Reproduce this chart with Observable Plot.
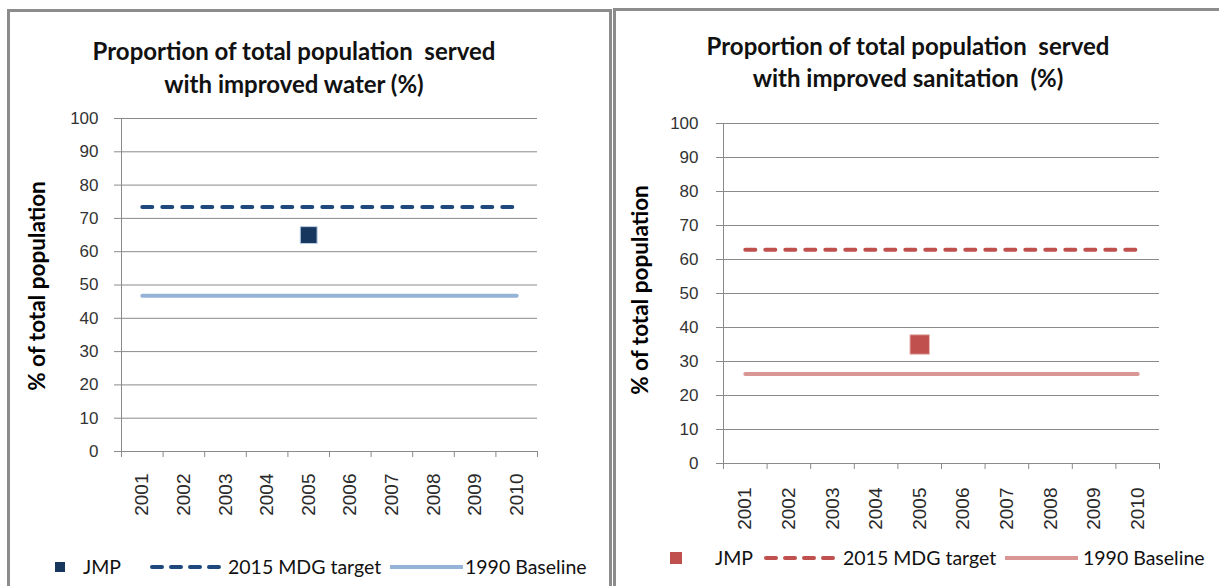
<!DOCTYPE html>
<html><head><meta charset="utf-8">
<script src="https://cdn.jsdelivr.net/npm/d3@7"></script>
<script src="https://cdn.jsdelivr.net/npm/@observablehq/plot@0.6"></script>
<style>
body{margin:0;width:1219px;height:586px;overflow:hidden;background:#fff;font-family:Lato,"Open Sans",sans-serif;position:relative;color:#000}
.panel{position:absolute;box-sizing:border-box;border:3px solid #8c8c8c;border-bottom:none}
.title{position:absolute;text-align:center;font-weight:bold;font-size:24px;line-height:33px;color:#111;white-space:nowrap}
.ylab{position:absolute;width:300px;height:28px;line-height:28px;text-align:center;transform:rotate(-90deg);font-weight:bold;font-size:22.5px;white-space:nowrap}
.chart{position:absolute}
.chart g[aria-label="y-axis tick label"] text{font-size:17px !important;font-family:'Liberation Sans',Arial,sans-serif !important;fill:#333}
.chart g[aria-label="x-axis tick label"] text{font-size:19px !important;font-family:'Liberation Sans',Arial,sans-serif !important;fill:#2a2a2a}
.lg{position:absolute;font-size:19.5px;line-height:20px;white-space:nowrap;color:#111}
.sw{position:absolute}
</style></head>
<body>
<div class="panel" style="left:7px;top:9px;width:605px;height:600px"></div>
<div class="panel" style="left:613px;top:8px;width:640px;height:600px"></div>
<div id="root"></div>
<script>
// ---- data ----
const years = [2001, 2002, 2003, 2004, 2005, 2006, 2007, 2008, 2009, 2010];
const yTicks = [0, 10, 20, 30, 40, 50, 60, 70, 80, 90, 100];
const waterJmpYears = [2005];
const waterJmp = [65];
const waterTarget = [73.4, 73.4, 73.4, 73.4, 73.4, 73.4, 73.4, 73.4, 73.4, 73.4];
const waterBaseline = [46.8, 46.8, 46.8, 46.8, 46.8, 46.8, 46.8, 46.8, 46.8, 46.8];
const sanJmpYears = [2005];
const sanJmp = [35];
const sanTarget = [62.9, 62.9, 62.9, 62.9, 62.9, 62.9, 62.9, 62.9, 62.9, 62.9];
const sanBaseline = [26.3, 26.3, 26.3, 26.3, 26.3, 26.3, 26.3, 26.3, 26.3, 26.3];
const seriesNames = ["JMP", "2015 MDG target", "1990 Baseline"];
const yLabel = "% of total population";
const titleWater = ["Proportion of total population  served", "with improved water (%)"];
const titleSan = ["Proportion of total population  served", "with improved sanitation  (%)"];

const root = document.getElementById("root");
const boundaries = [years[0] - 0.5, ...years.map(y => y + 0.5)];

function makeChart(cfg) {
  const target = years.map((y, i) => ({year: y, value: cfg.target[i]}));
  const base = years.map((y, i) => ({year: y, value: cfg.baseline[i]}));
  const jmp = cfg.jmpYears.map((y, i) => ({year: y, value: cfg.jmp[i]}));
  const grid = "#8a8a8a";
  const svg = Plot.plot({
    width: cfg.width, height: cfg.height,
    marginLeft: cfg.ml, marginRight: cfg.mr, marginTop: cfg.mt, marginBottom: cfg.mb,
    style: {color: "#3a3a3a", background: "transparent"},
    x: {type: "linear", domain: [boundaries[0], boundaries[boundaries.length - 1]]},
    y: {domain: [0, 100]},
    marks: [
      Plot.ruleY(yTicks, {stroke: grid, strokeWidth: 1, strokeOpacity: 1}),
      Plot.ruleX([boundaries[0]], {y1: 0, y2: 100, stroke: grid, strokeWidth: 1}),
      Plot.axisY({ticks: yTicks, tickSize: 7, tickPadding: cfg.yPad, stroke: grid, label: null, tickFormat: d => String(d)}),
      Plot.axisX({ticks: boundaries, tickSize: 6, stroke: grid, tickFormat: () => "", label: null}),
      Plot.axisX({ticks: years, tickSize: 0, tickPadding: cfg.xPad, tickRotate: -90, tickFormat: d => String(d), label: null}),
      Plot.lineY(base, {x: "year", y: "value", stroke: cfg.cBase, strokeWidth: 4}),
      Plot.lineY(target, {x: "year", y: "value", stroke: cfg.cTarget, strokeWidth: 4, strokeDasharray: "10,10", strokeLinecap: "round"}),
      Plot.dot(jmp, {x: "year", y: "value", symbol: "square", r: cfg.r, fill: cfg.cJmp, stroke: cfg.cJmpEdge, strokeWidth: 1})
    ]
  });
  svg.classList.add("chart");
  svg.style.left = cfg.left + "px";
  svg.style.top = cfg.top + "px";
  root.appendChild(svg);

  const t = document.createElement("div");
  t.className = "title";
  t.style.left = (cfg.tcx - 300) + "px"; t.style.width = "600px";
  t.style.top = cfg.ttop + "px"; t.style.lineHeight = cfg.tlh + "px";
  t.innerHTML = cfg.title.map(s => s.replace(/  /g, " &nbsp;")).join("<br>");
  root.appendChild(t);
  const yl = document.createElement("div");
  yl.className = "ylab";
  yl.textContent = yLabel;
  yl.style.left = (cfg.ylx - 150) + "px"; yl.style.top = (cfg.yly - 14) + "px";
  root.appendChild(yl);
  const L = cfg.legend;
  const add = (html, x, cls) => {
    const d = document.createElement("div");
    d.className = cls; d.style.left = x + "px"; d.style.top = (L.cy - 10) + "px";
    d.innerHTML = html; root.appendChild(d);
  };
  add(`<svg width="14" height="20"><rect x="1" y="${10 - L.sq / 2}" width="${L.sq}" height="${L.sq}" fill="${cfg.cJmp}"/></svg>`, L.sqx, "sw");
  add(seriesNames[0], L.jx, "lg");
  add(`<svg width="${L.lw + 4}" height="20"><line x1="2" x2="${L.lw + 2}" y1="10" y2="10" stroke="${cfg.cTarget}" stroke-width="4" stroke-dasharray="10,9" stroke-linecap="round"/></svg>`, L.d1, "sw");
  add(seriesNames[1], L.t1, "lg");
  add(`<svg width="${L.lw + 4}" height="20"><line x1="2" x2="${L.lw + 2}" y1="10" y2="10" stroke="${cfg.cBase}" stroke-width="4"/></svg>`, L.d2, "sw");
  add(seriesNames[2], L.t2, "lg");
}

makeChart({
  left: 0, top: 100, width: 610, height: 430, ml: 121, mr: 73, mt: 18, mb: 79, yPad: 16, xPad: 22, r: 9.5,
  target: waterTarget, baseline: waterBaseline, jmp: waterJmp, jmpYears: waterJmpYears,
  cTarget: "#1F497D", cBase: "#95B3D7", cJmp: "#17375E", cJmpEdge: "#b9cde5",
  title: titleWater, tcx: 294, ttop: 34, tlh: 33, ylx: 37, yly: 286,
  legend: {cy: 567, sq: 10, sqx: 54, jx: 83, d1: 150, lw: 73, t1: 228, d2: 388, t2: 465}
});
makeChart({
  left: 610, top: 100, width: 609, height: 450, ml: 113, mr: 60, mt: 23, mb: 87, yPad: 18, xPad: 24, r: 11,
  target: sanTarget, baseline: sanBaseline, jmp: sanJmp, jmpYears: sanJmpYears,
  cTarget: "#C0504D", cBase: "#D99694", cJmp: "#C0504D", cJmpEdge: "#e6b9b8",
  title: titleSan, tcx: 908, ttop: 30, tlh: 32, ylx: 640, yly: 290,
  legend: {cy: 558, sq: 12, sqx: 669, jx: 715, d1: 764, lw: 73, t1: 843, d2: 1003, t2: 1083}
});
</script>
</body></html>
